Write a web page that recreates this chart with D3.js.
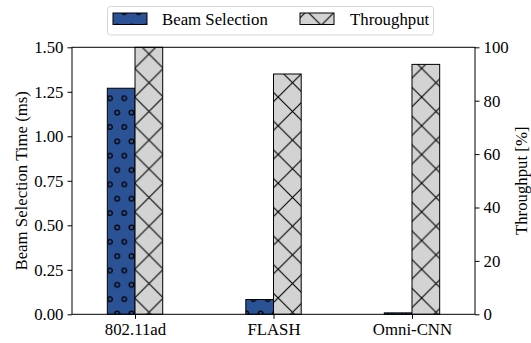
<!DOCTYPE html>
<html>
<head>
<meta charset="utf-8">
<script src="https://cdn.jsdelivr.net/npm/d3@7"></script>
<style>
  body { margin: 0; background: #fff; }
  text { font-family: "Liberation Serif", "Times New Roman", serif; fill: #000; }
</style>
</head>
<body>
<div id="chart"></div>
<script>
// Data
const methods = ["802.11ad", "FLASH", "Omni-CNN"];
const beamTime = [1.27, 0.083, 0.008];     // ms, left axis
const throughput = [100, 90.0, 93.6];      // %, right axis
const leftTicks = [0, 0.25, 0.5, 0.75, 1.0, 1.25, 1.5];
const rightTicks = [0, 20, 40, 60, 80, 100];

const width = 531, height = 343;
const plotLeft = 72, plotRight = 475, plotTop = 47.3, plotBottom = 314.3;
const barW = 0.2;
const fontSize = "16.8px";

const svg = d3.select("#chart").append("svg")
    .attr("width", width)
    .attr("height", height);

// hatch patterns (anchored to the page, like matplotlib)
const defs = svg.append("defs");
const P = 28.7, s = P / 2;

const px = defs.append("pattern")
    .attr("id", "hx")
    .attr("patternUnits", "userSpaceOnUse")
    .attr("x", 19.85).attr("y", 10.95)
    .attr("width", P).attr("height", P);
px.append("rect").attr("width", P).attr("height", P).attr("fill", "#d3d3d3");
px.append("path")
    .attr("d", `M-2,-2L${P + 2},${P + 2}M-2,${P + 2}L${P + 2},-2`)
    .attr("stroke", "#000").attr("stroke-width", 1.1).attr("fill", "none");

const po = defs.append("pattern")
    .attr("id", "ho")
    .attr("patternUnits", "userSpaceOnUse")
    .attr("x", 9.55).attr("y", 12.2)
    .attr("width", s).attr("height", P);
po.append("rect").attr("width", s).attr("height", P).attr("fill", "#2c5296");
[[0, 0], [s, 0], [0, P], [s, P], [s / 2, s]].forEach(c => {
    po.append("circle")
        .attr("cx", c[0]).attr("cy", c[1]).attr("r", 2.3)
        .attr("fill", "none").attr("stroke", "#000").attr("stroke-width", 1.3);
});

// scales
const x = d3.scaleLinear().domain([-0.455, 2.455]).range([plotLeft, plotRight]);
const yL = d3.scaleLinear().domain([0, 1.5]).range([plotBottom, plotTop]);
const yR = d3.scaleLinear().domain([0, 100]).range([plotBottom, plotTop]);

// bars
const g = svg.append("g");
g.selectAll(".beam")
    .data(methods)
    .enter().append("rect")
    .attr("class", "beam")
    .attr("x", (d, i) => x(i - barW))
    .attr("width", (d, i) => x(i) - x(i - barW))
    .attr("y", (d, i) => yL(beamTime[i]))
    .attr("height", (d, i) => plotBottom - yL(beamTime[i]))
    .attr("fill", "url(#ho)")
    .attr("stroke", "#000").attr("stroke-width", 1);

g.selectAll(".thr")
    .data(methods)
    .enter().append("rect")
    .attr("class", "thr")
    .attr("x", (d, i) => x(i))
    .attr("width", (d, i) => x(i + barW) - x(i))
    .attr("y", (d, i) => yR(throughput[i]))
    .attr("height", (d, i) => plotBottom - yR(throughput[i]))
    .attr("fill", "url(#hx)")
    .attr("stroke", "#000").attr("stroke-width", 1);

// frame
svg.append("rect")
    .attr("x", plotLeft).attr("y", plotTop)
    .attr("width", plotRight - plotLeft).attr("height", plotBottom - plotTop)
    .attr("fill", "none").attr("stroke", "#000").attr("stroke-width", 1);

// axes
const fmt = d3.format(".2f");
const axL = svg.append("g")
    .attr("transform", `translate(${plotLeft},0)`)
    .call(d3.axisLeft(yL).tickValues(leftTicks).tickFormat(fmt).tickSize(4.5).tickPadding(4));
const axR = svg.append("g")
    .attr("transform", `translate(${plotRight},0)`)
    .call(d3.axisRight(yR).tickValues(rightTicks).tickSize(4.5).tickPadding(4));
const axB = svg.append("g")
    .attr("transform", `translate(0,${plotBottom})`)
    .call(d3.axisBottom(x).tickValues([0, 1, 2]).tickFormat(i => methods[i]).tickSize(4.5).tickPadding(4));

[axL, axR, axB].forEach(a => {
    a.select(".domain").remove();
    a.selectAll("text").style("font-size", fontSize).style("font-family", "Liberation Serif");
    a.selectAll("line").attr("stroke", "#000");
});

// axis titles
svg.append("text")
    .attr("transform", `translate(27,${(plotTop + plotBottom) / 2}) rotate(-90)`)
    .attr("text-anchor", "middle")
    .style("font-size", fontSize)
    .text("Beam Selection Time (ms)");

svg.append("text")
    .attr("transform", `translate(527,${(plotTop + plotBottom) / 2}) rotate(-90)`)
    .attr("text-anchor", "middle")
    .style("font-size", fontSize)
    .text("Throughput [%]");

// legend
const leg = svg.append("g");
leg.append("rect")
    .attr("x", 107.5).attr("y", 6.5).attr("width", 326).attr("height", 28.5)
    .attr("rx", 3)
    .attr("fill", "#fff").attr("stroke", "#d6d6d6").attr("stroke-width", 1);

const legItems = [
    { label: "Beam Selection", fill: "url(#ho)", x: 113, tx: 162 },
    { label: "Throughput", fill: "url(#hx)", x: 300, tx: 350 }
];
legItems.forEach(d => {
    leg.append("rect")
        .attr("x", d.x).attr("y", 13).attr("width", 34).attr("height", 11.5)
        .attr("fill", d.fill).attr("stroke", "#000").attr("stroke-width", 1);
    leg.append("text")
        .attr("x", d.tx).attr("y", 25)
        .style("font-size", fontSize)
        .text(d.label);
});
</script>
</body>
</html>
